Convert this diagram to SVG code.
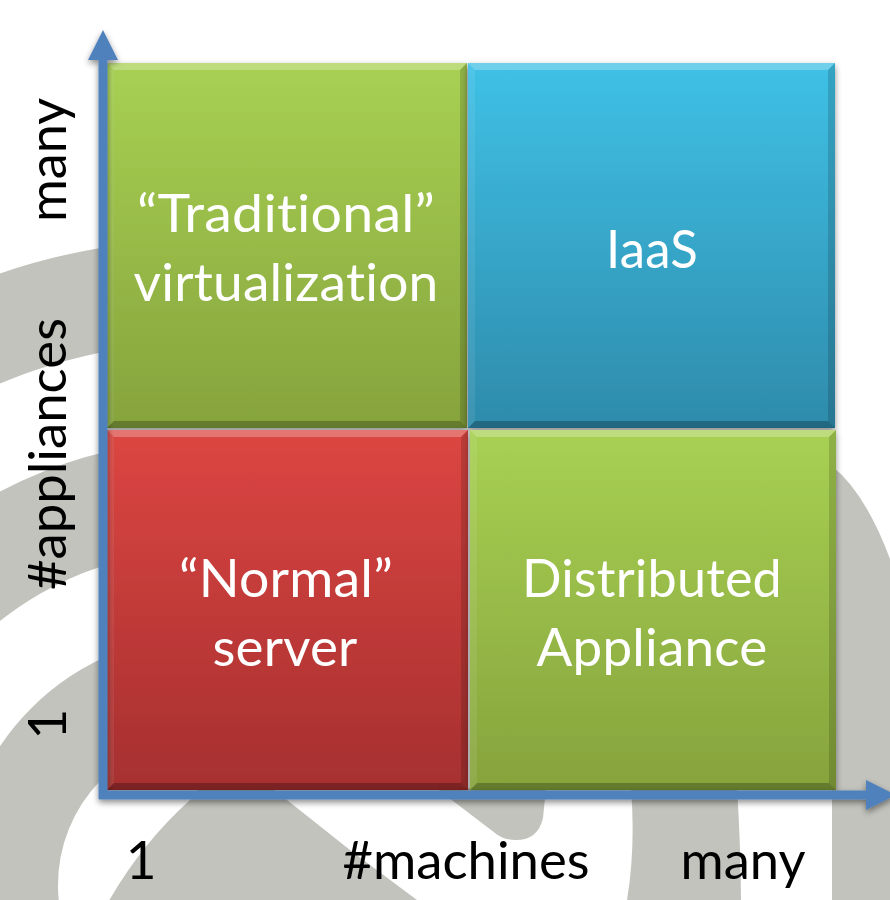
<svg xmlns="http://www.w3.org/2000/svg" width="890" height="900" viewBox="0 0 890 900">
<style>
.gr{fill:#c2c3bd}
.ring{fill:none;stroke:#c2c3bd}
.lbl{font-family:Lato,"Liberation Sans",sans-serif;font-size:53px;fill:#fff;text-anchor:middle;font-variant-ligatures:none;font-feature-settings:"liga" 0,"dlig" 0;letter-spacing:0.2px}
.ax{font-family:Lato,"Liberation Sans",sans-serif;font-size:53px;fill:#000;text-anchor:middle;font-variant-ligatures:none;font-feature-settings:"liga" 0,"dlig" 0}
.hl{fill:#fff;fill-opacity:.25}
.hl2{fill:#fff;fill-opacity:.08}
.sh{fill:#000;fill-opacity:.15}
.sh2{fill:#000;fill-opacity:.25}
.axis{stroke:#4f81bd;stroke-width:9;fill:none;marker-end:url(#arr)}
</style>
<defs>
<linearGradient id="gGreen" x1="0" y1="0" x2="0" y2="1"><stop offset="0" stop-color="#a8d153"/><stop offset="1" stop-color="#86a33c"/></linearGradient>
<linearGradient id="gBlue" x1="0" y1="0" x2="0" y2="1"><stop offset="0" stop-color="#3fc1e6"/><stop offset="1" stop-color="#2e8bab"/></linearGradient>
<linearGradient id="gRed" x1="0" y1="0" x2="0" y2="1"><stop offset="0" stop-color="#dc4642"/><stop offset="1" stop-color="#a62f2f"/></linearGradient>
<filter id="ds" x="-10%" y="-10%" width="120%" height="125%"><feDropShadow dx="0" dy="3" stdDeviation="3" flood-color="#000" flood-opacity="0.45"/></filter>
<clipPath id="leftclip"><rect x="-5" y="0" width="135" height="910"/></clipPath>
<marker id="arr" viewBox="0 0 30 30" refX="1" refY="15" markerWidth="30" markerHeight="30" markerUnits="userSpaceOnUse" orient="auto"><path d="M0,0 L30,15 L0,30 Z" fill="#4f81bd"/></marker>
</defs>
<rect x="0" y="0" width="890" height="900" fill="#fff"/>
<g id="swirl">
<g clip-path="url(#leftclip)">
<circle class="ring" cx="208" cy="885" r="594.5" stroke-width="103"/>
<circle class="ring" cx="208" cy="885" r="390.5" stroke-width="109"/>
<circle class="ring" cx="208" cy="885" r="200" stroke-width="100"/>
</g>
<path class="gr" d="M213,770 L248,770 L287,800 L350,850 L425,906 L106,906 Q140,845 190,800 Z"/>
<path class="gr" d="M436,788 L546,788 L543,818 Q538,840 516,840 Q503,840 495,833 Z"/>
<path class="gr" d="M631,788 L737,788 Q741,850 741,906 L626,906 Q636,850 631,788 Z"/>
<path class="gr" d="M832,906 L832,466 Q868,495 894,570 L894,906 Z"/>
</g>
<g id="traditional">
<rect x="107" y="63" width="360" height="365" fill="url(#gGreen)" filter="url(#ds)"/>
<polygon class="hl" points="107,63 467,63 460,70 114,70"/>
<polygon class="hl2" points="107,63 114,70 114,421 107,428"/>
<polygon class="sh" points="467,63 467,428 460,421 460,70"/>
<polygon class="sh2" points="107,428 467,428 460,421 114,421"/>
<text class="lbl" x="286" y="232" textLength="298" lengthAdjust="spacingAndGlyphs">“Traditional”</text>
<text class="lbl" x="286" y="301" textLength="305" lengthAdjust="spacingAndGlyphs">virtualization</text>
</g>
<g id="iaas">
<rect x="468" y="63" width="367" height="365" fill="url(#gBlue)" filter="url(#ds)"/>
<polygon class="hl" points="468,63 835,63 828,70 475,70"/>
<polygon class="hl2" points="468,63 475,70 475,421 468,428"/>
<polygon class="sh" points="835,63 835,428 828,421 828,70"/>
<polygon class="sh2" points="468,428 835,428 828,421 475,421"/>
<text class="lbl" x="652" y="268" textLength="92" lengthAdjust="spacingAndGlyphs">IaaS</text>
</g>
<g id="normal">
<rect x="107" y="430" width="361" height="360" fill="url(#gRed)" filter="url(#ds)"/>
<polygon class="hl" points="107,430 468,430 461,437 114,437"/>
<polygon class="hl2" points="107,430 114,437 114,783 107,790"/>
<polygon class="sh" points="468,430 468,790 461,783 461,437"/>
<polygon class="sh2" points="107,790 468,790 461,783 114,783"/>
<text class="lbl" x="286" y="597" textLength="214" lengthAdjust="spacingAndGlyphs">“Normal”</text>
<text class="lbl" x="285" y="666" textLength="145" lengthAdjust="spacingAndGlyphs">server</text>
</g>
<g id="distributed">
<rect x="470" y="430" width="366" height="360" fill="url(#gGreen)" filter="url(#ds)"/>
<polygon class="hl" points="470,430 836,430 829,437 477,437"/>
<polygon class="hl2" points="470,430 477,437 477,783 470,790"/>
<polygon class="sh" points="836,430 836,790 829,783 829,437"/>
<polygon class="sh2" points="470,790 836,790 829,783 477,783"/>
<text class="lbl" x="652" y="597" textLength="260" lengthAdjust="spacingAndGlyphs">Distributed</text>
<text class="lbl" x="652" y="666" textLength="231" lengthAdjust="spacingAndGlyphs">Appliance</text>
</g>
<g id="connectors" filter="url(#ds)">
<line class="axis" x1="103" y1="799" x2="103" y2="59"/>
<line class="axis" x1="99" y1="795" x2="867" y2="795"/>
</g>
<g id="labels">
<text class="ax" transform="translate(66,160) rotate(-90)" textLength="124" lengthAdjust="spacingAndGlyphs">many</text>
<text class="ax" transform="translate(66,454) rotate(-90)" textLength="272" lengthAdjust="spacingAndGlyphs">#appliances</text>
<text class="ax" transform="translate(66,724) rotate(-90)">1</text>
<text class="ax" x="141" y="879">1</text>
<text class="ax" x="466" y="879" textLength="247" lengthAdjust="spacingAndGlyphs">#machines</text>
<text class="ax" x="743" y="879" textLength="125" lengthAdjust="spacingAndGlyphs">many</text>
</g>
</svg>
